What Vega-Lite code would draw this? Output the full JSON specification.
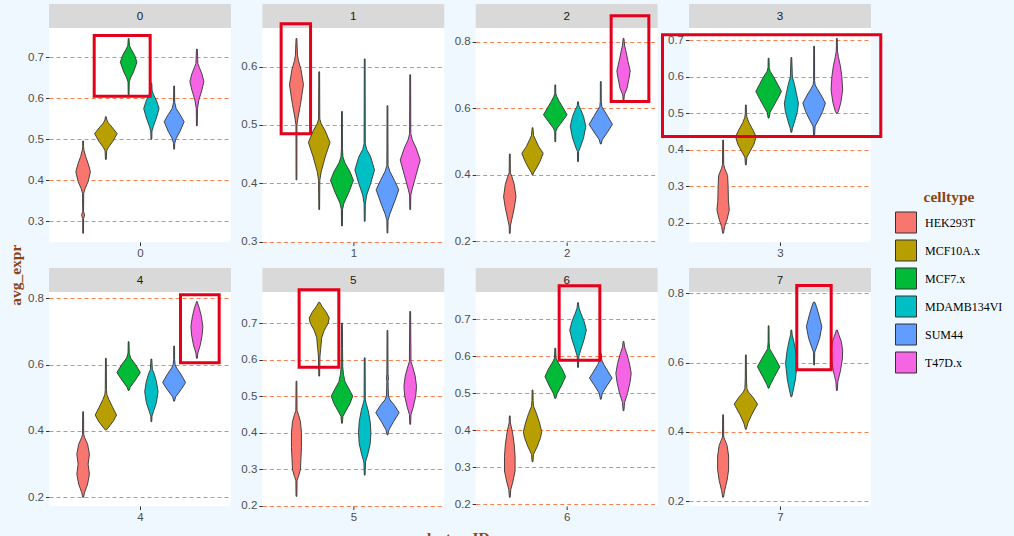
{
"$schema": "https://vega.github.io/schema/vega-lite/v6.json",
"background": "#F0F8FF",
"padding": {"left": 9, "top": 4, "right": 40, "bottom": 30},
"title": {"text": "avg_expr", "orient": "left", "anchor": "middle", "font": "Liberation Serif", "fontSize": 15.5, "fontWeight": "bold", "color": "#8B4513", "offset": 3},
"datasets": {
"violins": [
{"c":0,"t":"HEK293T","v":[0.271,0.307,0.312,0.315,0.318,0.324,0.368,0.380,0.397,0.421,0.441,0.458,0.472,0.482,0.496],"d":[0.4,0.4,1.2,1.5,1.2,0.4,0.6,2,5,7.3,5,2.5,1,0.4,0.4]},
{"c":0,"t":"MCF10A.x","v":[0.451,0.472,0.480,0.495,0.514,0.530,0.540,0.547,0.555],"d":[0.4,0.8,2.5,7,11.3,6,2.5,1,0.4]},
{"c":0,"t":"MCF7.x","v":[0.604,0.640,0.650,0.665,0.688,0.705,0.720,0.728,0.746],"d":[0.4,0.6,2,5,8.3,6,2.5,0.8,0.4]},
{"c":0,"t":"MDAMB134VI","v":[0.500,0.520,0.532,0.552,0.575,0.595,0.610,0.618,0.637],"d":[0.4,0.6,2,5,7.7,5,2,0.8,0.4]},
{"c":0,"t":"SUM44","v":[0.476,0.490,0.502,0.520,0.543,0.560,0.575,0.590,0.630],"d":[0.4,0.6,2,6,10,6,2,0.6,0.4]},
{"c":0,"t":"T47D.x","v":[0.533,0.575,0.596,0.620,0.641,0.660,0.675,0.685,0.720],"d":[0.4,0.6,2,5,7,5,2.5,1,0.4]},
{"c":1,"t":"HEK293T","v":[0.406,0.500,0.512,0.535,0.569,0.595,0.610,0.620,0.648],"d":[0.4,0.5,1.5,4,7,4.5,2,1,0.4]},
{"c":1,"t":"MCF10A.x","v":[0.355,0.405,0.420,0.445,0.470,0.490,0.502,0.510,0.591],"d":[0.4,0.6,2,6,10.8,6,2,0.6,0.4]},
{"c":1,"t":"MCF7.x","v":[0.327,0.355,0.366,0.385,0.405,0.420,0.435,0.445,0.460,0.523],"d":[0.4,0.6,2,7,11.5,8,3,1,0.5,0.4]},
{"c":1,"t":"MDAMB134VI","v":[0.335,0.365,0.380,0.400,0.423,0.445,0.458,0.468,0.613],"d":[0.4,0.6,2,6,9.8,6,2,0.6,0.4]},
{"c":1,"t":"SUM44","v":[0.315,0.337,0.348,0.368,0.389,0.405,0.420,0.430,0.533],"d":[0.4,0.6,2.5,7,11.3,7,2.5,0.6,0.4]},
{"c":1,"t":"T47D.x","v":[0.355,0.380,0.390,0.415,0.440,0.460,0.475,0.485,0.586],"d":[0.4,0.6,2,6,10,6,2,0.6,0.4]},
{"c":2,"t":"HEK293T","v":[0.223,0.245,0.265,0.300,0.333,0.370,0.395,0.405,0.462],"d":[0.4,0.6,2,4.5,6.2,4.5,2,0.6,0.4]},
{"c":2,"t":"MCF10A.x","v":[0.399,0.405,0.420,0.440,0.464,0.485,0.505,0.518,0.541],"d":[0.4,1,4,7.5,10.7,6,3,1,0.4]},
{"c":2,"t":"MCF7.x","v":[0.499,0.530,0.540,0.560,0.580,0.600,0.620,0.635,0.645,0.670],"d":[0.4,0.6,2,7,11.8,8,4,1.5,0.5,0.4]},
{"c":2,"t":"MDAMB134VI","v":[0.439,0.470,0.480,0.510,0.545,0.575,0.597,0.607,0.619],"d":[0.4,0.6,2,5.5,7.8,5.5,2.5,0.8,0.4]},
{"c":2,"t":"SUM44","v":[0.492,0.505,0.520,0.551,0.575,0.595,0.605,0.620,0.680],"d":[0.4,1.5,5,11.7,7,3,1,0.5,0.4]},
{"c":2,"t":"T47D.x","v":[0.624,0.640,0.660,0.690,0.712,0.740,0.770,0.790,0.810],"d":[0.4,0.8,3.5,5.5,6.7,4.5,2.5,1,0.4]},
{"c":3,"t":"HEK293T","v":[0.172,0.190,0.210,0.236,0.260,0.300,0.330,0.350,0.360,0.427],"d":[0.4,1.5,4,6.2,5.3,5,4.5,1.5,0.6,0.4]},
{"c":3,"t":"MCF10A.x","v":[0.359,0.380,0.395,0.415,0.436,0.455,0.475,0.490,0.500,0.523],"d":[0.4,1,4,8,10.3,7,3,1,0.6,0.4]},
{"c":3,"t":"MCF7.x","v":[0.487,0.503,0.520,0.540,0.560,0.580,0.600,0.615,0.625,0.651],"d":[0.4,1.5,5,9,12.8,9,5,1.5,0.6,0.4]},
{"c":3,"t":"MDAMB134VI","v":[0.448,0.458,0.480,0.505,0.528,0.555,0.580,0.600,0.653],"d":[0.4,1,3.5,6,7,5,3,1,0.4]},
{"c":3,"t":"SUM44","v":[0.436,0.465,0.485,0.505,0.528,0.550,0.568,0.578,0.590,0.684],"d":[0.4,1,5,8.5,11.3,7,3,1,0.5,0.4]},
{"c":3,"t":"T47D.x","v":[0.500,0.505,0.530,0.564,0.600,0.630,0.655,0.670,0.705],"d":[0.4,1.5,4,5.8,5,3.5,1.5,0.6,0.4]},
{"c":4,"t":"HEK293T","v":[0.200,0.215,0.240,0.270,0.300,0.330,0.360,0.380,0.390,0.458],"d":[0.4,1.5,4.5,6.3,5,6.3,4.5,1.5,0.6,0.4]},
{"c":4,"t":"MCF10A.x","v":[0.403,0.412,0.430,0.448,0.470,0.495,0.510,0.525,0.619],"d":[0.5,3,7.5,10.7,7,3,1,0.6,0.4]},
{"c":4,"t":"MCF7.x","v":[0.522,0.532,0.550,0.576,0.600,0.620,0.635,0.669],"d":[0.4,1.5,6,11.7,7,2,0.6,0.4]},
{"c":4,"t":"MDAMB134VI","v":[0.428,0.445,0.458,0.485,0.519,0.550,0.575,0.585,0.617],"d":[0.4,0.6,2,5,6.7,5,2.5,1,0.4]},
{"c":4,"t":"SUM44","v":[0.490,0.503,0.525,0.546,0.570,0.590,0.600,0.615,0.656],"d":[0.4,1.5,7,11.5,7,2.5,1,0.5,0.4]},
{"c":4,"t":"T47D.x","v":[0.619,0.635,0.660,0.690,0.715,0.745,0.770,0.785,0.790],"d":[0.4,1,3.5,5.3,6,4.5,2.5,0.8,0.4]},
{"c":5,"t":"HEK293T","v":[0.226,0.270,0.280,0.300,0.330,0.360,0.400,0.430,0.450,0.460,0.541],"d":[0.4,0.6,2,4,4.5,5,5,4,2,0.6,0.4]},
{"c":5,"t":"MCF10A.x","v":[0.555,0.610,0.630,0.660,0.680,0.700,0.714,0.730,0.745,0.757],"d":[0.4,0.8,1.5,2.5,5,9,10,7,3,0.5]},
{"c":5,"t":"MCF7.x","v":[0.426,0.445,0.460,0.480,0.500,0.520,0.540,0.560,0.580,0.630,0.700],"d":[0.4,1,4,8,10.8,7,3,1.5,0.8,0.6,0.4]},
{"c":5,"t":"MDAMB134VI","v":[0.284,0.320,0.340,0.370,0.400,0.430,0.460,0.480,0.490,0.605],"d":[0.4,0.8,3,5.5,6.2,5.5,3.5,1.5,0.6,0.4]},
{"c":5,"t":"SUM44","v":[0.394,0.408,0.430,0.455,0.475,0.490,0.500,0.540,0.550,0.560,0.680],"d":[0.4,1.5,6,11.7,7,2.5,1,0.6,1,0.6,0.4]},
{"c":5,"t":"T47D.x","v":[0.423,0.450,0.470,0.500,0.527,0.555,0.580,0.595,0.732],"d":[0.4,0.8,3,5.5,6.3,5,2.5,0.8,0.4]},
{"c":6,"t":"HEK293T","v":[0.219,0.240,0.260,0.290,0.330,0.360,0.390,0.410,0.420,0.439],"d":[0.4,1,3,5.3,5.3,4.5,3,1.5,0.6,0.4]},
{"c":6,"t":"MCF10A.x","v":[0.315,0.335,0.355,0.380,0.396,0.420,0.445,0.465,0.480,0.509],"d":[0.4,1,4.5,8,9.2,7,4,1,0.6,0.4]},
{"c":6,"t":"MCF7.x","v":[0.486,0.500,0.520,0.545,0.565,0.585,0.595,0.622],"d":[0.4,2,6,10.3,7,2.5,0.8,0.4]},
{"c":6,"t":"MDAMB134VI","v":[0.570,0.600,0.620,0.645,0.671,0.695,0.715,0.730,0.745],"d":[0.4,0.8,3,6,8.3,6,3,1,0.4]},
{"c":6,"t":"SUM44","v":[0.484,0.500,0.520,0.541,0.560,0.578,0.590,0.608],"d":[0.4,1.5,6,11.3,7,3,1,0.4]},
{"c":6,"t":"T47D.x","v":[0.453,0.475,0.500,0.530,0.554,0.580,0.605,0.625,0.640],"d":[0.4,1,4,6.5,7.7,6,3.5,1,0.4]},
{"c":7,"t":"HEK293T","v":[0.211,0.230,0.260,0.290,0.330,0.360,0.375,0.385,0.449],"d":[0.4,1.5,4,5.5,5.5,4,2,0.6,0.4]},
{"c":7,"t":"MCF10A.x","v":[0.407,0.425,0.450,0.480,0.500,0.515,0.525,0.555,0.622],"d":[0.4,2,6,11.7,7,2.5,1,0.6,0.4]},
{"c":7,"t":"MCF7.x","v":[0.526,0.535,0.560,0.588,0.610,0.630,0.640,0.660,0.706],"d":[0.4,1.5,6,11.2,7,3,1,0.5,0.4]},
{"c":7,"t":"MDAMB134VI","v":[0.501,0.515,0.550,0.598,0.630,0.660,0.680,0.694],"d":[0.4,1.5,4,5.8,4.5,2.5,0.8,0.4]},
{"c":7,"t":"SUM44","v":[0.593,0.630,0.645,0.670,0.704,0.735,0.760,0.772,0.775],"d":[0.4,0.6,2.5,5.5,7.7,5,2.5,1,0.4]},
{"c":7,"t":"T47D.x","v":[0.519,0.545,0.575,0.610,0.636,0.660,0.680,0.694],"d":[0.4,1,3.5,5.5,5.8,4.5,2,0.4]}
]
},
"vconcat": [
{
"title": {"text": "cluster_ID", "orient": "bottom", "anchor": "middle", "font": "Liberation Serif", "fontSize": 15.5, "fontWeight": "bold", "color": "#8B4513", "offset": 8},
"columns": 4,
"spacing": {"row": 26, "column": 31.33},
"bounds": "flush",
"concat": [
{"width": 182, "height": 238, "layer": [
 {"data": {"values": [{}]}, "mark": {"type": "rect", "fill": "#D9D9D9"}, "encoding": {
  "x": {"datum": -0.6, "type": "quantitative", "scale": {"domain": [-0.6, 0.6], "nice": false, "zero": false}, "axis": {"title": null}},
  "x2": {"datum": 0.6},
  "y": {"datum": 0.7715, "type": "quantitative", "scale": {"domain": [0.2495, 0.83], "nice": false, "zero": false}, "axis": {"title": null}},
  "y2": {"datum": 0.83}}},
 {"data": {"values": [{}]}, "mark": {"type": "text", "text": "0", "font": "Liberation Sans", "fontSize": 11.7, "color": "#1A1A1A", "baseline": "middle", "align": "center"}, "encoding": {
  "x": {"datum": 0, "type": "quantitative", "axis": {"title": null}}, "y": {"datum": 0.8008, "type": "quantitative", "axis": {"title": null}}}},
 {"data": {"name": "violins"}, "transform": [{"filter": "datum.c == 0"}, {"flatten": ["v", "d"]}, {"calculate": "indexof(['HEK293T','MCF10A.x','MCF7.x','MDAMB134VI','SUM44','T47D.x'], datum.t) * 0.15 - 0.375", "as": "slot"}, {"calculate": "datum.slot - datum.d * 0.006593", "as": "lo"}, {"calculate": "datum.slot + datum.d * 0.006593", "as": "hi"}],
  "mark": {"type": "area", "orient": "horizontal", "stroke": "#333333", "strokeWidth": 0.9, "opacity": 1},
  "encoding": {"y": {"field": "v", "type": "quantitative", "scale": {"domain": [0.2495, 0.83], "nice": false, "zero": false}, "axis": {"values": [0.3, 0.4, 0.5, 0.6, 0.7], "format": ".1f", "title": null, "grid": true}},
   "x": {"field": "lo", "type": "quantitative", "stack": null, "scale": {"domain": [-0.6, 0.6], "nice": false, "zero": false}, "axis": {"values": [0], "labelExpr": "'0'", "title": null, "grid": false}}, "x2": {"field": "hi"},
   "color": {"field": "t", "type": "nominal", "scale": {"domain": ["HEK293T","MCF10A.x","MCF7.x","MDAMB134VI","SUM44","T47D.x"], "range": ["#F8766D","#B79F00","#00BA38","#00BFC4","#619CFF","#F564E3"]}, "legend": {"title": "celltype", "orient": "none", "legendX": 846, "legendY": 186}}}},
 {"data": {"values": [{}]}, "mark": {"type": "rect", "fill": "white", "fillOpacity": 0, "stroke": "#E3001B", "strokeWidth": 3, "clip": false}, "encoding": {
  "x": {"datum": -0.302, "type": "quantitative", "axis": {"title": null}}, "x2": {"datum": 0.067}, "y": {"datum": 0.6051, "type": "quantitative", "axis": {"title": null}}, "y2": {"datum": 0.7532}}}
]},
{"width": 182, "height": 238, "layer": [
 {"data": {"values": [{}]}, "mark": {"type": "rect", "fill": "#D9D9D9"}, "encoding": {
  "x": {"datum": -0.6, "type": "quantitative", "scale": {"domain": [-0.6, 0.6], "nice": false, "zero": false}, "axis": {"title": null}},
  "x2": {"datum": 0.6},
  "y": {"datum": 0.6661, "type": "quantitative", "scale": {"domain": [0.2995, 0.7071], "nice": false, "zero": false}, "axis": {"title": null}},
  "y2": {"datum": 0.7071}}},
 {"data": {"values": [{}]}, "mark": {"type": "text", "text": "1", "font": "Liberation Sans", "fontSize": 11.7, "color": "#1A1A1A", "baseline": "middle", "align": "center"}, "encoding": {
  "x": {"datum": 0, "type": "quantitative", "axis": {"title": null}}, "y": {"datum": 0.6866, "type": "quantitative", "axis": {"title": null}}}},
 {"data": {"name": "violins"}, "transform": [{"filter": "datum.c == 1"}, {"flatten": ["v", "d"]}, {"calculate": "indexof(['HEK293T','MCF10A.x','MCF7.x','MDAMB134VI','SUM44','T47D.x'], datum.t) * 0.15 - 0.375", "as": "slot"}, {"calculate": "datum.slot - datum.d * 0.006593", "as": "lo"}, {"calculate": "datum.slot + datum.d * 0.006593", "as": "hi"}],
  "mark": {"type": "area", "orient": "horizontal", "stroke": "#333333", "strokeWidth": 0.9, "opacity": 1},
  "encoding": {"y": {"field": "v", "type": "quantitative", "scale": {"domain": [0.2995, 0.7071], "nice": false, "zero": false}, "axis": {"values": [0.3, 0.4, 0.5, 0.6], "format": ".1f", "title": null, "grid": true}},
   "x": {"field": "lo", "type": "quantitative", "stack": null, "scale": {"domain": [-0.6, 0.6], "nice": false, "zero": false}, "axis": {"values": [0], "labelExpr": "'1'", "title": null, "grid": false}}, "x2": {"field": "hi"},
   "color": {"field": "t", "type": "nominal", "scale": {"domain": ["HEK293T","MCF10A.x","MCF7.x","MDAMB134VI","SUM44","T47D.x"], "range": ["#F8766D","#B79F00","#00BA38","#00BFC4","#619CFF","#F564E3"]}, "legend": {"title": "celltype", "orient": "none", "legendX": 846, "legendY": 186}}}},
 {"data": {"values": [{}]}, "mark": {"type": "rect", "fill": "white", "fillOpacity": 0, "stroke": "#E3001B", "strokeWidth": 3, "clip": false}, "encoding": {
  "x": {"datum": -0.476, "type": "quantitative", "axis": {"title": null}}, "x2": {"datum": -0.282}, "y": {"datum": 0.4847, "type": "quantitative", "axis": {"title": null}}, "y2": {"datum": 0.6733}}}
]},
{"width": 182, "height": 238, "layer": [
 {"data": {"values": [{}]}, "mark": {"type": "rect", "fill": "#D9D9D9"}, "encoding": {
  "x": {"datum": -0.6, "type": "quantitative", "scale": {"domain": [-0.6, 0.6], "nice": false, "zero": false}, "axis": {"title": null}},
  "x2": {"datum": 0.6},
  "y": {"datum": 0.8413, "type": "quantitative", "scale": {"domain": [0.197, 0.9135], "nice": false, "zero": false}, "axis": {"title": null}},
  "y2": {"datum": 0.9135}}},
 {"data": {"values": [{}]}, "mark": {"type": "text", "text": "2", "font": "Liberation Sans", "fontSize": 11.7, "color": "#1A1A1A", "baseline": "middle", "align": "center"}, "encoding": {
  "x": {"datum": 0, "type": "quantitative", "axis": {"title": null}}, "y": {"datum": 0.8774, "type": "quantitative", "axis": {"title": null}}}},
 {"data": {"name": "violins"}, "transform": [{"filter": "datum.c == 2"}, {"flatten": ["v", "d"]}, {"calculate": "indexof(['HEK293T','MCF10A.x','MCF7.x','MDAMB134VI','SUM44','T47D.x'], datum.t) * 0.15 - 0.375", "as": "slot"}, {"calculate": "datum.slot - datum.d * 0.006593", "as": "lo"}, {"calculate": "datum.slot + datum.d * 0.006593", "as": "hi"}],
  "mark": {"type": "area", "orient": "horizontal", "stroke": "#333333", "strokeWidth": 0.9, "opacity": 1},
  "encoding": {"y": {"field": "v", "type": "quantitative", "scale": {"domain": [0.197, 0.9135], "nice": false, "zero": false}, "axis": {"values": [0.2, 0.4, 0.6, 0.8], "format": ".1f", "title": null, "grid": true}},
   "x": {"field": "lo", "type": "quantitative", "stack": null, "scale": {"domain": [-0.6, 0.6], "nice": false, "zero": false}, "axis": {"values": [0], "labelExpr": "'2'", "title": null, "grid": false}}, "x2": {"field": "hi"},
   "color": {"field": "t", "type": "nominal", "scale": {"domain": ["HEK293T","MCF10A.x","MCF7.x","MDAMB134VI","SUM44","T47D.x"], "range": ["#F8766D","#B79F00","#00BA38","#00BFC4","#619CFF","#F564E3"]}, "legend": {"title": "celltype", "orient": "none", "legendX": 846, "legendY": 186}}}},
 {"data": {"values": [{}]}, "mark": {"type": "rect", "fill": "white", "fillOpacity": 0, "stroke": "#E3001B", "strokeWidth": 3, "clip": false}, "encoding": {
  "x": {"datum": 0.2933, "type": "quantitative", "axis": {"title": null}}, "x2": {"datum": 0.5419}, "y": {"datum": 0.62, "type": "quantitative", "axis": {"title": null}}, "y2": {"datum": 0.878}}}
]},
{"width": 182, "height": 238, "layer": [
 {"data": {"values": [{}]}, "mark": {"type": "rect", "fill": "#D9D9D9"}, "encoding": {
  "x": {"datum": -0.6, "type": "quantitative", "scale": {"domain": [-0.6, 0.6], "nice": false, "zero": false}, "axis": {"title": null}},
  "x2": {"datum": 0.6},
  "y": {"datum": 0.7337, "type": "quantitative", "scale": {"domain": [0.148, 0.7993], "nice": false, "zero": false}, "axis": {"title": null}},
  "y2": {"datum": 0.7993}}},
 {"data": {"values": [{}]}, "mark": {"type": "text", "text": "3", "font": "Liberation Sans", "fontSize": 11.7, "color": "#1A1A1A", "baseline": "middle", "align": "center"}, "encoding": {
  "x": {"datum": 0, "type": "quantitative", "axis": {"title": null}}, "y": {"datum": 0.7665, "type": "quantitative", "axis": {"title": null}}}},
 {"data": {"name": "violins"}, "transform": [{"filter": "datum.c == 3"}, {"flatten": ["v", "d"]}, {"calculate": "indexof(['HEK293T','MCF10A.x','MCF7.x','MDAMB134VI','SUM44','T47D.x'], datum.t) * 0.15 - 0.375", "as": "slot"}, {"calculate": "datum.slot - datum.d * 0.006593", "as": "lo"}, {"calculate": "datum.slot + datum.d * 0.006593", "as": "hi"}],
  "mark": {"type": "area", "orient": "horizontal", "stroke": "#333333", "strokeWidth": 0.9, "opacity": 1},
  "encoding": {"y": {"field": "v", "type": "quantitative", "scale": {"domain": [0.148, 0.7993], "nice": false, "zero": false}, "axis": {"values": [0.2, 0.3, 0.4, 0.5, 0.6, 0.7], "format": ".1f", "title": null, "grid": true}},
   "x": {"field": "lo", "type": "quantitative", "stack": null, "scale": {"domain": [-0.6, 0.6], "nice": false, "zero": false}, "axis": {"values": [0], "labelExpr": "'3'", "title": null, "grid": false}}, "x2": {"field": "hi"},
   "color": {"field": "t", "type": "nominal", "scale": {"domain": ["HEK293T","MCF10A.x","MCF7.x","MDAMB134VI","SUM44","T47D.x"], "range": ["#F8766D","#B79F00","#00BA38","#00BFC4","#619CFF","#F564E3"]}, "legend": {"title": "celltype", "orient": "none", "legendX": 846, "legendY": 186}}}},
 {"data": {"values": [{}]}, "mark": {"type": "rect", "fill": "white", "fillOpacity": 0, "stroke": "#E3001B", "strokeWidth": 3, "clip": false}, "encoding": {
  "x": {"datum": -0.7747, "type": "quantitative", "axis": {"title": null}}, "x2": {"datum": 0.6645}, "y": {"datum": 0.4367, "type": "quantitative", "axis": {"title": null}}, "y2": {"datum": 0.7151}}}
]},
{"width": 182, "height": 238, "layer": [
 {"data": {"values": [{}]}, "mark": {"type": "rect", "fill": "#D9D9D9"}, "encoding": {
  "x": {"datum": -0.6, "type": "quantitative", "scale": {"domain": [-0.6, 0.6], "nice": false, "zero": false}, "axis": {"title": null}},
  "x2": {"datum": 0.6},
  "y": {"datum": 0.819, "type": "quantitative", "scale": {"domain": [0.1738, 0.8914], "nice": false, "zero": false}, "axis": {"title": null}},
  "y2": {"datum": 0.8914}}},
 {"data": {"values": [{}]}, "mark": {"type": "text", "text": "4", "font": "Liberation Sans", "fontSize": 11.7, "color": "#1A1A1A", "baseline": "middle", "align": "center"}, "encoding": {
  "x": {"datum": 0, "type": "quantitative", "axis": {"title": null}}, "y": {"datum": 0.8552, "type": "quantitative", "axis": {"title": null}}}},
 {"data": {"name": "violins"}, "transform": [{"filter": "datum.c == 4"}, {"flatten": ["v", "d"]}, {"calculate": "indexof(['HEK293T','MCF10A.x','MCF7.x','MDAMB134VI','SUM44','T47D.x'], datum.t) * 0.15 - 0.375", "as": "slot"}, {"calculate": "datum.slot - datum.d * 0.006593", "as": "lo"}, {"calculate": "datum.slot + datum.d * 0.006593", "as": "hi"}],
  "mark": {"type": "area", "orient": "horizontal", "stroke": "#333333", "strokeWidth": 0.9, "opacity": 1},
  "encoding": {"y": {"field": "v", "type": "quantitative", "scale": {"domain": [0.1738, 0.8914], "nice": false, "zero": false}, "axis": {"values": [0.2, 0.4, 0.6, 0.8], "format": ".1f", "title": null, "grid": true}},
   "x": {"field": "lo", "type": "quantitative", "stack": null, "scale": {"domain": [-0.6, 0.6], "nice": false, "zero": false}, "axis": {"values": [0], "labelExpr": "'4'", "title": null, "grid": false}}, "x2": {"field": "hi"},
   "color": {"field": "t", "type": "nominal", "scale": {"domain": ["HEK293T","MCF10A.x","MCF7.x","MDAMB134VI","SUM44","T47D.x"], "range": ["#F8766D","#B79F00","#00BA38","#00BFC4","#619CFF","#F564E3"]}, "legend": {"title": "celltype", "orient": "none", "legendX": 846, "legendY": 186}}}},
 {"data": {"values": [{}]}, "mark": {"type": "rect", "fill": "white", "fillOpacity": 0, "stroke": "#E3001B", "strokeWidth": 3, "clip": false}, "encoding": {
  "x": {"datum": 0.267, "type": "quantitative", "axis": {"title": null}}, "x2": {"datum": 0.522}, "y": {"datum": 0.6055, "type": "quantitative", "axis": {"title": null}}, "y2": {"datum": 0.8106}}}
]},
{"width": 182, "height": 238, "layer": [
 {"data": {"values": [{}]}, "mark": {"type": "rect", "fill": "#D9D9D9"}, "encoding": {
  "x": {"datum": -0.6, "type": "quantitative", "scale": {"domain": [-0.6, 0.6], "nice": false, "zero": false}, "axis": {"title": null}},
  "x2": {"datum": 0.6},
  "y": {"datum": 0.7853, "type": "quantitative", "scale": {"domain": [0.1995, 0.8508], "nice": false, "zero": false}, "axis": {"title": null}},
  "y2": {"datum": 0.8508}}},
 {"data": {"values": [{}]}, "mark": {"type": "text", "text": "5", "font": "Liberation Sans", "fontSize": 11.7, "color": "#1A1A1A", "baseline": "middle", "align": "center"}, "encoding": {
  "x": {"datum": 0, "type": "quantitative", "axis": {"title": null}}, "y": {"datum": 0.818, "type": "quantitative", "axis": {"title": null}}}},
 {"data": {"name": "violins"}, "transform": [{"filter": "datum.c == 5"}, {"flatten": ["v", "d"]}, {"calculate": "indexof(['HEK293T','MCF10A.x','MCF7.x','MDAMB134VI','SUM44','T47D.x'], datum.t) * 0.15 - 0.375", "as": "slot"}, {"calculate": "datum.slot - datum.d * 0.006593", "as": "lo"}, {"calculate": "datum.slot + datum.d * 0.006593", "as": "hi"}],
  "mark": {"type": "area", "orient": "horizontal", "stroke": "#333333", "strokeWidth": 0.9, "opacity": 1},
  "encoding": {"y": {"field": "v", "type": "quantitative", "scale": {"domain": [0.1995, 0.8508], "nice": false, "zero": false}, "axis": {"values": [0.2, 0.3, 0.4, 0.5, 0.6, 0.7], "format": ".1f", "title": null, "grid": true}},
   "x": {"field": "lo", "type": "quantitative", "stack": null, "scale": {"domain": [-0.6, 0.6], "nice": false, "zero": false}, "axis": {"values": [0], "labelExpr": "'5'", "title": null, "grid": false}}, "x2": {"field": "hi"},
   "color": {"field": "t", "type": "nominal", "scale": {"domain": ["HEK293T","MCF10A.x","MCF7.x","MDAMB134VI","SUM44","T47D.x"], "range": ["#F8766D","#B79F00","#00BA38","#00BFC4","#619CFF","#F564E3"]}, "legend": {"title": "celltype", "orient": "none", "legendX": 846, "legendY": 186}}}},
 {"data": {"values": [{}]}, "mark": {"type": "rect", "fill": "white", "fillOpacity": 0, "stroke": "#E3001B", "strokeWidth": 3, "clip": false}, "encoding": {
  "x": {"datum": -0.3574, "type": "quantitative", "axis": {"title": null}}, "x2": {"datum": -0.0956}, "y": {"datum": 0.5795, "type": "quantitative", "axis": {"title": null}}, "y2": {"datum": 0.7913}}}
]},
{"width": 182, "height": 238, "layer": [
 {"data": {"values": [{}]}, "mark": {"type": "rect", "fill": "#D9D9D9"}, "encoding": {
  "x": {"datum": -0.6, "type": "quantitative", "scale": {"domain": [-0.6, 0.6], "nice": false, "zero": false}, "axis": {"title": null}},
  "x2": {"datum": 0.6},
  "y": {"datum": 0.7738, "type": "quantitative", "scale": {"domain": [0.1954, 0.8387], "nice": false, "zero": false}, "axis": {"title": null}},
  "y2": {"datum": 0.8387}}},
 {"data": {"values": [{}]}, "mark": {"type": "text", "text": "6", "font": "Liberation Sans", "fontSize": 11.7, "color": "#1A1A1A", "baseline": "middle", "align": "center"}, "encoding": {
  "x": {"datum": 0, "type": "quantitative", "axis": {"title": null}}, "y": {"datum": 0.8062, "type": "quantitative", "axis": {"title": null}}}},
 {"data": {"name": "violins"}, "transform": [{"filter": "datum.c == 6"}, {"flatten": ["v", "d"]}, {"calculate": "indexof(['HEK293T','MCF10A.x','MCF7.x','MDAMB134VI','SUM44','T47D.x'], datum.t) * 0.15 - 0.375", "as": "slot"}, {"calculate": "datum.slot - datum.d * 0.006593", "as": "lo"}, {"calculate": "datum.slot + datum.d * 0.006593", "as": "hi"}],
  "mark": {"type": "area", "orient": "horizontal", "stroke": "#333333", "strokeWidth": 0.9, "opacity": 1},
  "encoding": {"y": {"field": "v", "type": "quantitative", "scale": {"domain": [0.1954, 0.8387], "nice": false, "zero": false}, "axis": {"values": [0.2, 0.3, 0.4, 0.5, 0.6, 0.7], "format": ".1f", "title": null, "grid": true}},
   "x": {"field": "lo", "type": "quantitative", "stack": null, "scale": {"domain": [-0.6, 0.6], "nice": false, "zero": false}, "axis": {"values": [0], "labelExpr": "'6'", "title": null, "grid": false}}, "x2": {"field": "hi"},
   "color": {"field": "t", "type": "nominal", "scale": {"domain": ["HEK293T","MCF10A.x","MCF7.x","MDAMB134VI","SUM44","T47D.x"], "range": ["#F8766D","#B79F00","#00BA38","#00BFC4","#619CFF","#F564E3"]}, "legend": {"title": "celltype", "orient": "none", "legendX": 846, "legendY": 186}}}},
 {"data": {"values": [{}]}, "mark": {"type": "rect", "fill": "white", "fillOpacity": 0, "stroke": "#E3001B", "strokeWidth": 3, "clip": false}, "encoding": {
  "x": {"datum": -0.0495, "type": "quantitative", "axis": {"title": null}}, "x2": {"datum": 0.2189}, "y": {"datum": 0.5895, "type": "quantitative", "axis": {"title": null}}, "y2": {"datum": 0.7905}}}
]},
{"width": 182, "height": 238, "layer": [
 {"data": {"values": [{}]}, "mark": {"type": "rect", "fill": "#D9D9D9"}, "encoding": {
  "x": {"datum": -0.6, "type": "quantitative", "scale": {"domain": [-0.6, 0.6], "nice": false, "zero": false}, "axis": {"title": null}},
  "x2": {"datum": 0.6},
  "y": {"datum": 0.8038, "type": "quantitative", "scale": {"domain": [0.1856, 0.8731], "nice": false, "zero": false}, "axis": {"title": null}},
  "y2": {"datum": 0.8731}}},
 {"data": {"values": [{}]}, "mark": {"type": "text", "text": "7", "font": "Liberation Sans", "fontSize": 11.7, "color": "#1A1A1A", "baseline": "middle", "align": "center"}, "encoding": {
  "x": {"datum": 0, "type": "quantitative", "axis": {"title": null}}, "y": {"datum": 0.8384, "type": "quantitative", "axis": {"title": null}}}},
 {"data": {"name": "violins"}, "transform": [{"filter": "datum.c == 7"}, {"flatten": ["v", "d"]}, {"calculate": "indexof(['HEK293T','MCF10A.x','MCF7.x','MDAMB134VI','SUM44','T47D.x'], datum.t) * 0.15 - 0.375", "as": "slot"}, {"calculate": "datum.slot - datum.d * 0.006593", "as": "lo"}, {"calculate": "datum.slot + datum.d * 0.006593", "as": "hi"}],
  "mark": {"type": "area", "orient": "horizontal", "stroke": "#333333", "strokeWidth": 0.9, "opacity": 1},
  "encoding": {"y": {"field": "v", "type": "quantitative", "scale": {"domain": [0.1856, 0.8731], "nice": false, "zero": false}, "axis": {"values": [0.2, 0.4, 0.6, 0.8], "format": ".1f", "title": null, "grid": true}},
   "x": {"field": "lo", "type": "quantitative", "stack": null, "scale": {"domain": [-0.6, 0.6], "nice": false, "zero": false}, "axis": {"values": [0], "labelExpr": "'7'", "title": null, "grid": false}}, "x2": {"field": "hi"},
   "color": {"field": "t", "type": "nominal", "scale": {"domain": ["HEK293T","MCF10A.x","MCF7.x","MDAMB134VI","SUM44","T47D.x"], "range": ["#F8766D","#B79F00","#00BA38","#00BFC4","#619CFF","#F564E3"]}, "legend": {"title": "celltype", "orient": "none", "legendX": 846, "legendY": 186}}}},
 {"data": {"values": [{}]}, "mark": {"type": "rect", "fill": "white", "fillOpacity": 0, "stroke": "#E3001B", "strokeWidth": 3, "clip": false}, "encoding": {
  "x": {"datum": 0.1107, "type": "quantitative", "axis": {"title": null}}, "x2": {"datum": 0.3375}, "y": {"datum": 0.579, "type": "quantitative", "axis": {"title": null}}, "y2": {"datum": 0.8225}}}
]}
]
}
],
"config": {
 "view": {"fill": "white", "stroke": null},
 "axis": {"domain": false, "tickColor": "#333333", "tickSize": 3.5, "tickWidth": 1, "labelFont": "Liberation Sans", "labelFontSize": 11.5, "labelColor": "#4D4D4D", "labelPadding": 2, "gridColor": "#FF7F50", "gridDash": [4, 3], "gridWidth": 1},
 "legend": {"titleFont": "Liberation Serif", "titleFontSize": 15.5, "titleFontWeight": "bold", "titleColor": "#8B4513", "titleAnchor": "middle", "titlePadding": 6, "labelFont": "Liberation Serif", "labelFontSize": 12, "labelColor": "#000000", "labelOffset": 8, "symbolType": "square", "symbolSize": 441, "symbolStrokeColor": "#333333", "symbolStrokeWidth": 1, "symbolOpacity": 1, "rowPadding": 2}
}
}
